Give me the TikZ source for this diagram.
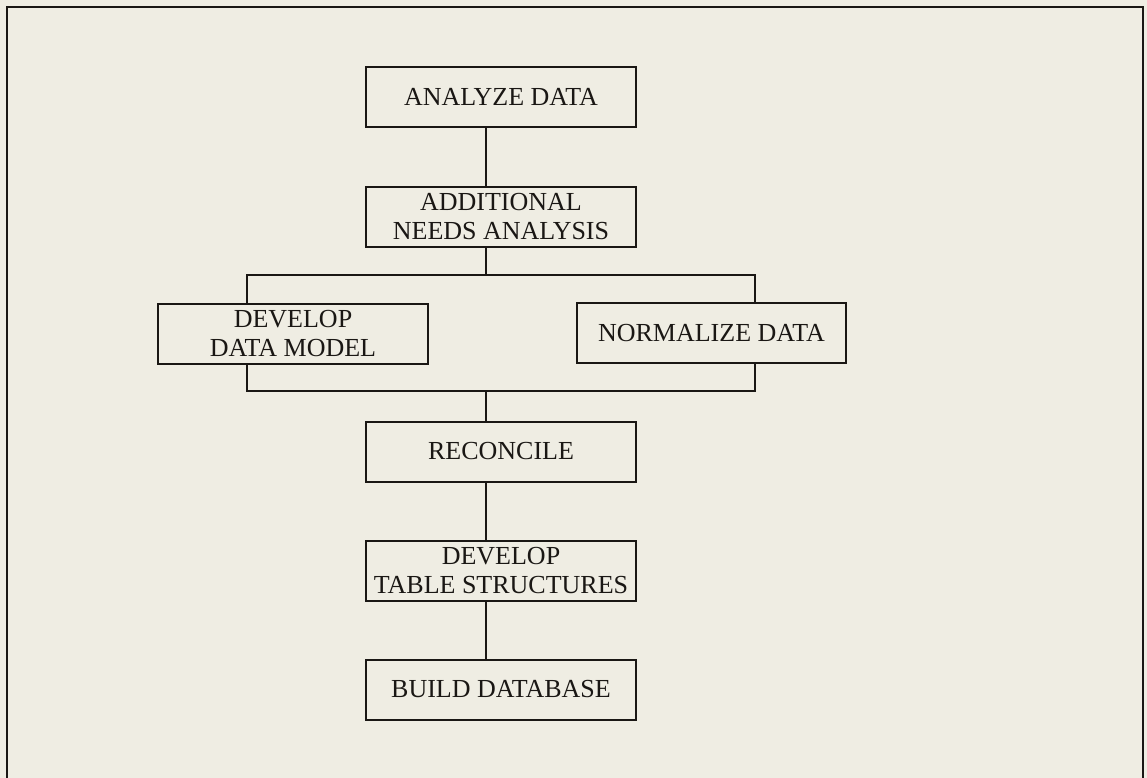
\documentclass[tikz,border=0pt]{standalone}
\usepackage{fontspec}
\setmainfont{Liberation Serif}
\usetikzlibrary{positioning}
\definecolor{paper}{HTML}{EFEDE3}
\definecolor{ink}{HTML}{1A1714}

\begin{document}
\begin{tikzpicture}[x=0.75pt, y=-0.75pt,
    stage/.style={draw=ink, line width=1.5pt, minimum width=202pt, minimum height=45pt,
        align=center, font=\fontsize{19.5}{21.5}\selectfont, text=ink, inner sep=1pt},
    link/.style={draw=ink, line width=1.1pt},
]

% ===== Page and frame =====
\fill[paper] (0,0) rectangle (1147,778);
\useasboundingbox (0,0) rectangle (1147,778);
\draw[ink, line width=2pt] (7,778) -- (7,7) -- (1143,7) -- (1143,778);

% ===== Stages =====
\node[stage] (ana)   at (501,96.5)  {ANALYZE DATA};
\node[stage] (add)   at (501,216.5) {ADDITIONAL\\NEEDS ANALYSIS};
\node[stage] (ddm)   at (293,333.5) {DEVELOP\\DATA MODEL};
\node[stage] (norm)  at (711.5,333) {NORMALIZE DATA};
\node[stage] (rec)   at (501,451.5) {RECONCILE};
\node[stage] (dts)   at (501,570.5) {DEVELOP\\TABLE STRUCTURES};
\node[stage] (build) at (501,689.5) {BUILD DATABASE};

% ===== Branch points =====
\coordinate (split) at (486,275);
\coordinate (lsplit) at (247,275);
\coordinate (rsplit) at (755,275);
\coordinate (merge) at (486,391);
\coordinate (lmerge) at (247,391);
\coordinate (rmerge) at (755,391);

% ===== Connectors =====
\draw[link] (ana.south -| split) -- (add.north -| split);
\draw[link] (add.south -| split) -- (split);
\draw[link] (ddm.north -| lsplit) -- (lsplit) -- (rsplit) -- (norm.north -| rsplit);
\draw[link] (ddm.south -| lmerge) -- (lmerge) -- (rmerge) -- (norm.south -| rmerge);
\draw[link] (merge) -- (rec.north -| merge);
\draw[link] (rec.south -| merge) -- (dts.north -| merge);
\draw[link] (dts.south -| merge) -- (build.north -| merge);

\end{tikzpicture}
\end{document}
